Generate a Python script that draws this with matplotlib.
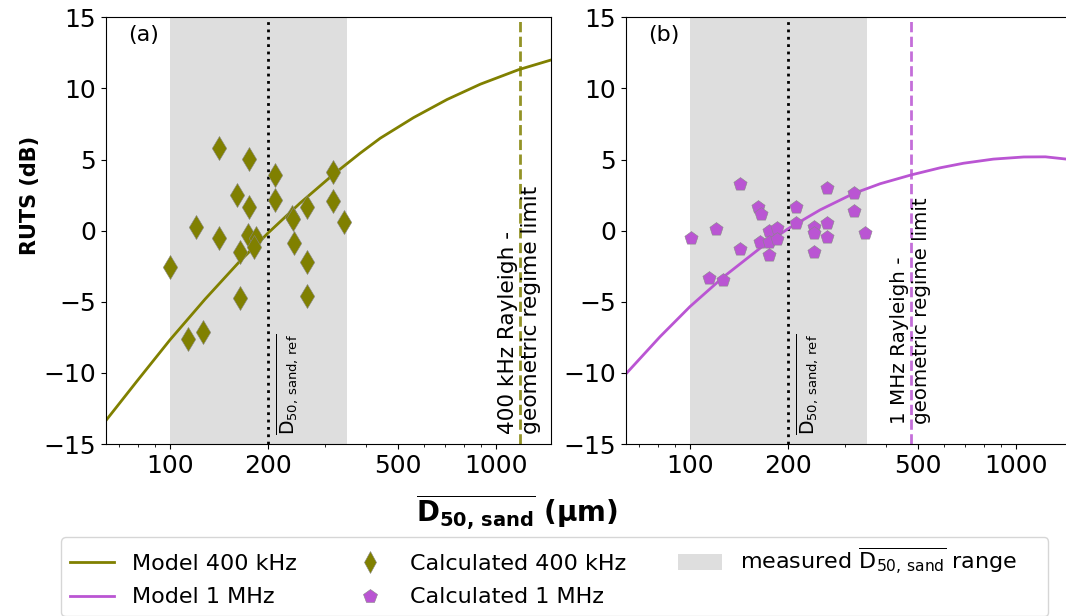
import matplotlib
matplotlib.use("Agg")
import matplotlib.pyplot as plt
from matplotlib.ticker import FixedLocator, FixedFormatter, NullFormatter, LogLocator
from matplotlib.patches import Patch

# ---------------- data ----------------
# Model curves
model400_d = [63.5, 79.2, 100, 128.1, 164.1, 200.1, 250.8, 316.8, 383.5, 441.8, 559.2, 708.1, 896.5, 1175, 1477]
model400_y = [-13.37, -10.58, -7.68, -4.82, -2.13, -0.16, 1.94, 3.94, 5.45, 6.50, 7.95, 9.22, 10.30, 11.32, 12.0]

model1M_d = [63.9, 80.9, 100, 126.6, 168, 200.4, 250.8, 317.5, 383.5, 477.5, 586, 691, 853, 1057, 1232, 1429]
model1M_y = [-10.02, -7.46, -5.34, -3.26, -1.05, 0.15, 1.46, 2.61, 3.30, 3.92, 4.42, 4.74, 5.03, 5.18, 5.19, 5.03]

# Calculated points, 400 kHz
calc400_d = [100, 141.7, 175.2, 119.9, 141.7, 161.0, 175.2, 174.0, 183.8, 181.5, 164.1, 164.1,
             210.2, 210.2, 237.5, 239.2, 240.4, 263, 263, 263, 316, 316, 342.4, 113.8, 126.0]
calc400_y = [-2.57, 5.79, 5.02, 0.28, -0.51, 2.53, 1.64, -0.30, -0.53, -1.17, -1.52, -4.75,
             3.91, 2.16, 0.98, 0.82, -0.89, 1.64, -2.18, -4.59, 4.10, 2.11, 0.63, -7.63, -7.10]

# Calculated points, 1 MHz
calc1M_d = [100.5, 114, 126.6, 120, 142.4, 142.4, 162.2, 164.9, 164, 175, 175, 175, 184.7, 184.4,
            211, 211, 241, 239.4, 241, 263, 263, 263, 318, 318, 343.4]
calc1M_y = [-0.49, -3.3, -3.46, 0.1, 3.28, -1.26, 1.64, 1.17, -0.77, 0.0, -0.77, -1.7, 0.17, -0.6,
            1.64, 0.52, 0.28, -0.18, -1.47, 2.98, 0.56, -0.47, 2.63, 1.38, -0.18]

d50_range = [100, 350]
d50_ref = 200
rayleigh_limit = {"400 kHz": 1183, "1 MHz": 476}

xticks = [100, 200, 500, 1000]
xticklabels = ["100", "200", "500", "1000"]
yticks = [-15, -10, -5, 0, 5, 10, 15]

OLIVE = "#808000"
ORCHID = "#BA55D3"
GREY = "#dedede"

# ---------------- figure ----------------
W, H = 1066, 616
fig = plt.figure(figsize=(W / 100, H / 100), dpi=100)
axw = 445.3 / W
axh = (444 - 17.3) / H
axb = 1 - 444 / H
ax1 = fig.add_axes([105.7 / W, axb, axw, axh])
ax2 = fig.add_axes([625.7 / W, axb, axw, axh])

ref_label = r'$\overline{\mathrm{D}_{\mathrm{50,\,sand,\,ref}}}$'

def setup(ax, md, my, cd, cy, color, marker, ms, freq, panel, text_fs):
    ax.set_xscale("log")
    ax.axvspan(d50_range[0], d50_range[1], color=GREY, zorder=0, lw=0)
    ax.axvline(d50_ref, color="black", ls=":", lw=2, zorder=1)
    ax.plot(md, my, color=color, lw=2, zorder=2)
    ax.scatter(cd, cy, marker=marker, s=ms, color=color, edgecolors="#888888",
               linewidths=0.4, zorder=3)
    xl = rayleigh_limit[freq]
    ax.axvline(xl, color=color, ls="--", lw=2, alpha=0.85, zorder=2)
    ax.text(xl, -5.6, f"{freq} Rayleigh -\ngeometric regime limit", rotation=90,
            ha="center", va="center", fontsize=text_fs, multialignment="left")
    ax.text(209, -14.4, ref_label, rotation=90, ha="left", va="bottom", fontsize=13.5)
    ax.text(0.05, 0.983, panel, transform=ax.transAxes, ha="left", va="top", fontsize=16)
    ax.set_xlim(63.5, 1476)
    ax.set_ylim(-15, 15)
    ax.xaxis.set_major_locator(FixedLocator(xticks))
    ax.xaxis.set_major_formatter(FixedFormatter(xticklabels))
    ax.xaxis.set_minor_locator(LogLocator(base=10, subs=range(2, 10), numticks=20))
    ax.xaxis.set_minor_formatter(NullFormatter())
    ax.set_yticks(yticks)
    ax.tick_params(axis="both", which="major", labelsize=18)

setup(ax1, model400_d, model400_y, calc400_d, calc400_y, OLIVE, "d", 150, "400 kHz", "(a)", 15.6)
setup(ax2, model1M_d, model1M_y, calc1M_d, calc1M_y, ORCHID, "p", 100, "1 MHz", "(b)", 14.3)

fig.text(30 / W, 1 - 195 / H, "RUTS (dB)", rotation=90, ha="center", va="center",
         fontsize=15, fontweight="bold")
fig.text(517 / W, 1 - 512 / H, r'$\overline{\mathbf{D}_{\mathbf{50,\,sand}}}$ (µm)',
         ha="center", va="center", fontsize=20, fontweight="bold")

handles = [
    plt.Line2D([], [], color=OLIVE, lw=2),
    plt.Line2D([], [], color=ORCHID, lw=2),
    plt.Line2D([], [], color=OLIVE, marker="d", ls="none", markersize=11,
               markeredgecolor="#888888", markeredgewidth=0.4),
    plt.Line2D([], [], color=ORCHID, marker="p", ls="none", markersize=10,
               markeredgecolor="#888888", markeredgewidth=0.4),
    Patch(facecolor=GREY, edgecolor="none"),
]
labels = ["Model 400 kHz", "Model 1 MHz", "Calculated 400 kHz", "Calculated 1 MHz",
          r'measured $\overline{\mathrm{D}_{\mathrm{50,\,sand}}}$ range    ']
fig.legend(handles, labels, ncol=3, loc="upper left",
           bbox_to_anchor=(50 / W, 1 - 526 / H), fontsize=16, frameon=True,
           columnspacing=2.3, labelspacing=0.6)

fig.savefig("out.png", dpi=100)
